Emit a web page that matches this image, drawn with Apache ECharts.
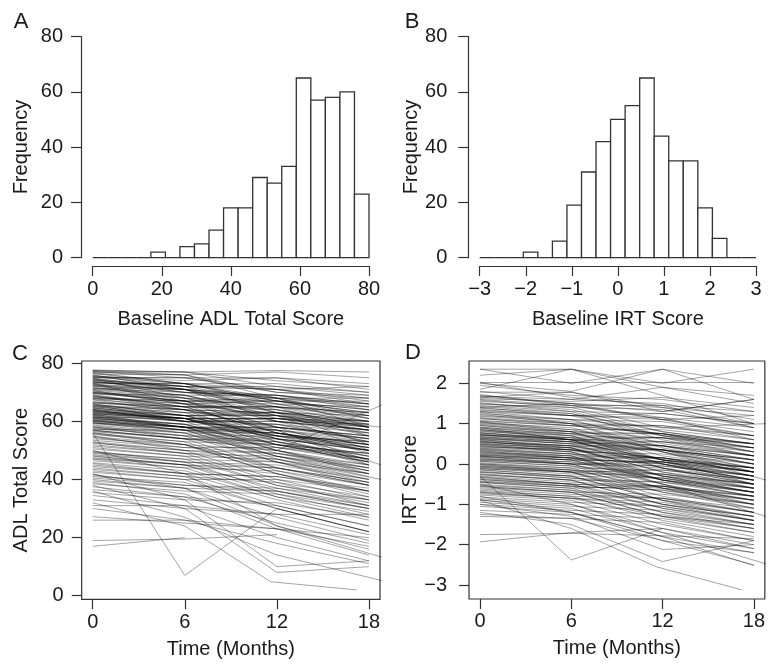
<!DOCTYPE html>
<html><head><meta charset="utf-8">
<script src="https://cdn.jsdelivr.net/npm/echarts@6/dist/echarts.min.js"></script>
<style>html,body{margin:0;padding:0;background:#fff}#c{width:768px;height:667px}</style>
</head><body><div id="c"></div>
<script>
// ---------- data ----------
const adlBinEdges = [0,4.21,8.42,12.63,16.84,21.05,25.26,29.47,33.68,37.89,42.11,46.32,50.53,54.74,58.95,63.16,67.37,71.58,75.79,80];
const adlCounts   = [0,0,0,0,2,0,4,5,10,18,18,29,27,33,65,57,58,60,23];
const irtBinEdges = [-3,-2.684,-2.368,-2.053,-1.737,-1.421,-1.105,-0.789,-0.474,-0.158,0.158,0.474,0.789,1.105,1.421,1.737,2.053,2.368,2.684,3];
const irtCounts   = [0,0,0,2,0,6,19,31,42,50,55,65,44,35,35,18,7,0,0];

const freqTicks = [0,20,40,60,80];
const adlTicks = [0,20,40,60,80];
const irtHistTicks = [-3,-2,-1,0,1,2,3];
const timeTicks = [0,6,12,18];
const irtTicks = [-3,-2,-1,0,1,2];

const visitTimes = [0,6,12,18];

// ADL total score per subject at months 0, 6, 12, 18
const adlTraj = [
[77.5,76,77,75],[77,77,72,70],[77.7,77,77.5,77],[76.5,73,71,66],[77,76,70,68],[76,71,68,62],[77.5,77,74,72],[76.8,73,67,63],[77.2,75,75,71],[76.3,76,68,58],
[75.5,72,71,67],[75,75,70,69],[74.5,71,64,60],[74,70,69,65],[73.5,72,63,58],[73,73,68,66],[75.8,73,73,70],[74.8,68,65,55],[72.5,71,65,62],[73.8,70,68,61],
[75.2,75,71,72],[72.2,69,61,57],[74.2,72,67,64],[73.2,67,66,60],[75.6,74,75,73],[72.8,71,66,65],[74.6,72,71,68],[73.6,71,60,53],[72.4,70,69,66],[75.3,73,66,62],
[74.1,72,72,69],[72.9,66,62,50],[73.3,73,67,67],[74.9,71,69,64],[72.1,71,63,56],
[71.5,69,69,66],[71,69,62,60],[70.5,67,67,63],[70,67,58,54],[69.5,69,63,62],[69,65,64,58],[68.5,66,58,55],[68,66,67,64],[67.5,65,56,51],[71.8,68,67,61],
[70.8,68,60,57],[69.8,67,68,65],[68.8,64,63,52],[67.8,67,61,60],[71.2,70,65,63],[70.2,66,54,46],[69.2,65,65,59],[68.2,67,60,57],[67.4,63,62,55],[71.4,71,68,68],
[70.6,66,64,58],[69.6,67,56,50],[68.6,65,65,61],[67.9,64,53,45],
[66.8,64,63,59],[66.5,64,57,54],[66,62,62,57],[65.5,63,55,52],[65,63,63,60],[64.5,62,55,50],[64,60,60,56],[63.5,61,53,48],[63.2,61,61,58],[66.3,65,56,52],
[65.8,60,57,45],[65.2,64,60,59],[64.8,61,59,53],[64.2,61,52,46],[63.8,61,61,57],[63.4,62,54,51],[66.6,65,65,63],[65.6,64,58,55],[64.6,62,62,58],[63.6,60,50,42],
[66.1,62,58,49],[65.1,62,54,50],[64.1,62,63,60],[63.1,61,55,53],
[62.8,60,59,54],[62.5,61,54,50],[62,58,55,48],[61.5,59,59,56],[61,59,51,46],[60.5,58,58,54],[60,58,50,45],[59.5,57,56,52],[59.2,57,48,42],[62.3,60,60,57],
[61.8,59,50,44],[61.3,58,56,50],[60.8,59,52,49],[60.3,57,47,40],[59.8,57,57,53],[62.6,61,52,47],[62.1,60,61,58],[61.6,58,48,41],[61.1,58,57,52],[60.6,58,49,44],
[60.1,58,58,55],[59.6,56,46,38],[62.4,58,56,51],[61.4,61,55,53],[60.4,57,54,47],[59.4,58,52,49],[62.9,61,61,59],
[58.5,55,53,47],[58,56,48,43],[57.5,55,55,51],[57,54,44,38],[56.5,54,53,48],[56,53,43,36],[55.5,53,52,47],[58.8,56,56,52],[57.8,55,46,40],[56.8,54,54,50],
[55.8,52,42,34],[58.2,54,52,46],[57.2,57,51,49],[56.2,52,50,43],
[54.5,51,49,43],[54,52,44,39],[53.5,51,51,47],[53,50,40,33],[52.5,50,49,45],[52,49,39,31],[51.5,49,48,44],[51,48,38,32],[50.5,48,47,42],[54.8,52,42,36],[52.8,49,46,39],
[49.8,46,44,38],[49.5,47,46,42],[49,46,36,30],[48.5,46,45,40],[48,45,35,28],[47.5,45,44,39],[47,44,34,27],[46.5,44,43,38],[49.2,47,38,33],[48.2,45,42,35],[47.2,45,37,31],
[45.5,42,41,36],[45,42,33,26],[44.5,42,41,37],[44,41,31,24],[43.5,41,39,34],[43,40,30,22],[42.5,40,40,36],[45.8,43,34,29],
[41.5,38,36,30],[41,39,30,22],[40.5,38,37,33],[40,37,27,19],[39.5,37,36,31],[39,35,23,14],[38.5,36,35,30],[41.8,37,24,16],
[37.5,34,31,24],[36.5,34,25,18],[35.5,33,32,27],[34.5,31,20,12],
[33,30,28,21],[31,31,28,28],
[27.2,25,23,17],[26,26,23,20],
[17,20,null,null],[19,19.5,21,null]
];
// ADL subjects with off-schedule visits: [month, score]
const adlTrajIrregular = [
[[0,56],[6,7],[12,30],[18,22]],
[[0,32],[6,24],[11.6,4.8],[17.2,2]],
[[0,38],[6,30],[12,8],[18,10]],
[[0,36],[6,27],[12,14],[19,5]],
[[0,30],[6,26],[12,18],[18,11]],
[[0,42],[6,33],[12,10],[18,12]],
[[0,50],[6,42],[12,24],[19,13]],
[[0,57],[6,54],[12,50],[19,66]],
[[0,70],[6,68],[12,62],[18.8,58]],
[[0,64],[6,60],[12,57],[18.8,45]],
[[0,55],[6,50],[12,47],[18.8,40]]
];

// IRT score per subject at months 0, 6, 12, 18
const irtTraj = [
[2.35,2.0,2.35,1.6],[2.35,2.35,2.0,2.35],[2.2,2.35,1.9,1.7],
[2.02,2.02,2.02,2.02],[2.0,1.8,2.35,2.0],[1.95,1.7,1.6,1.3],[1.85,2.35,1.7,1.0],[1.8,1.6,1.9,1.5],[2.02,1.65,1.45,0.9],[1.78,1.78,1.3,1.6],
[1.7,1.5,1.4,1.0],[1.65,1.78,1.4,1.2],[1.6,1.45,1.1,0.8],[1.55,1.45,1.45,1.3],[1.5,1.35,0.8,0.5],[1.45,1.3,1.25,1.0],[1.72,1.45,1.15,0.6],[1.62,1.55,1.65,1.4],[1.52,1.3,0.7,0.3],[1.68,1.6,1.5,1.1],
[1.58,1.4,0.9,0.7],[1.48,1.4,1.35,0.9],[1.43,1.25,0.6,0.2],[1.66,1.5,1.3,1.6],
[1.4,1.2,1.1,0.7],[1.35,1.2,0.7,0.4],[1.3,1.2,1.15,0.9],[1.25,1.1,0.5,0.2],[1.2,1.1,1.05,0.7],[1.15,1.0,0.4,0.0],[1.12,1.0,0.95,0.6],[1.38,1.25,0.8,0.5],[1.28,1.0,0.75,0.3],[1.18,1.05,0.7,0.5],
[1.33,1.2,1.25,1.0],[1.23,1.0,0.3,-0.2],[1.13,0.95,0.75,0.4],[1.4,1.5,1.1,1.2],
[1.08,0.95,0.75,0.4],[1.05,0.85,0.45,0.1],[1.0,0.85,0.85,0.6],[0.95,0.8,0.2,-0.1],[0.9,0.8,0.75,0.5],[0.85,0.7,0.1,-0.3],[0.8,0.7,0.65,0.3],[1.02,0.9,0.3,-0.1],[0.98,0.8,0.65,0.2],[0.92,0.7,0.0,-0.4],
[0.88,0.75,0.75,0.5],[0.82,0.65,0.45,0.0],[1.06,0.95,0.95,0.7],[0.96,0.75,0.35,0.1],[0.86,0.6,0.35,-0.2],[0.83,0.75,0.55,0.4],[1.04,0.8,0.1,-0.5],
[0.78,0.6,0.45,0.1],[0.76,0.65,0.1,-0.2],[0.74,0.6,0.55,0.3],[0.72,0.6,0.0,-0.4],[0.7,0.6,0.65,0.4],[0.68,0.55,0.1,-0.1],[0.66,0.5,0.35,0.0],[0.64,0.5,-0.1,-0.5],[0.62,0.5,0.55,0.2],[0.6,0.45,0.0,-0.3],
[0.58,0.45,0.35,0.1],[0.56,0.4,-0.2,-0.6],[0.54,0.45,0.45,0.2],[0.52,0.35,0.15,-0.2],[0.5,0.4,-0.3,-0.7],[0.48,0.4,0.35,0.0],[0.77,0.6,-0.1,-0.6],[0.73,0.55,0.35,-0.1],[0.67,0.55,0.45,0.2],[0.63,0.55,0.1,-0.2],
[0.57,0.35,0.05,-0.4],[0.53,0.45,0.1,-0.1],[0.49,0.3,-0.4,-0.8],[0.71,0.65,0.65,0.5],[0.61,0.4,-0.2,-0.5],
[0.46,0.35,0.15,-0.2],[0.43,0.35,-0.1,-0.4],[0.4,0.3,0.25,0.0],[0.37,0.25,-0.3,-0.6],[0.34,0.25,0.15,-0.2],[0.31,0.2,-0.4,-0.8],[0.28,0.2,0.15,-0.1],[0.25,0.15,-0.3,-0.5],[0.22,0.1,0.05,-0.3],[0.19,0.1,-0.5,-0.9],
[0.17,0.05,-0.05,-0.3],[0.45,0.3,-0.3,-0.7],[0.39,0.25,0.05,-0.3],[0.33,0.15,0.0,-0.4],[0.27,0.15,-0.4,-0.7],[0.21,0.15,0.15,-0.1],[0.42,0.35,0.35,0.1],[0.36,0.2,-0.5,-1.0],[0.3,0.15,0.0,-0.5],[0.24,0.1,-0.4,-0.6],[0.18,0.1,0.05,-0.2],
[0.15,0.0,-0.1,-0.5],[0.12,0.05,-0.4,-0.7],[0.09,0.0,-0.05,-0.3],[0.06,-0.05,-0.6,-0.9],[0.03,-0.1,-0.15,-0.4],[0.0,-0.1,-0.7,-1.1],[-0.03,-0.15,-0.25,-0.5],[-0.06,-0.15,-0.6,-0.8],[-0.09,-0.2,-0.15,-0.4],[-0.12,-0.2,-0.8,-1.2],
[-0.15,-0.3,-0.35,-0.6],[0.13,0.0,-0.6,-1.0],[0.07,-0.05,-0.25,-0.6],[0.01,-0.15,-0.35,-0.7],[-0.05,-0.2,-0.7,-1.0],[-0.11,-0.25,-0.25,-0.5],[0.1,0.0,0.05,-0.2],[-0.01,-0.2,-0.9,-1.4],[-0.08,-0.2,-0.35,-0.7],[-0.14,-0.3,-0.9,-1.3],
[-0.18,-0.35,-0.55,-0.9],[-0.21,-0.3,-0.9,-1.2],[-0.24,-0.4,-0.45,-0.7],[-0.27,-0.4,-1.0,-1.4],[-0.3,-0.45,-0.55,-0.9],[-0.33,-0.5,-1.1,-1.5],[-0.36,-0.5,-0.55,-0.8],[-0.39,-0.5,-1.0,-1.3],[-0.42,-0.55,-0.65,-1.0],[-0.45,-0.6,-1.2,-1.6],
[-0.2,-0.35,-0.45,-0.8],[-0.26,-0.4,-1.0,-1.3],[-0.32,-0.5,-0.6,-1.1],[-0.38,-0.55,-0.65,-0.9],[-0.44,-0.55,-1.1,-1.4],[-0.46,-0.6,-0.55,-0.8],
[-0.5,-0.65,-0.85,-1.2],[-0.53,-0.65,-1.2,-1.5],[-0.56,-0.7,-0.75,-1.0],[-0.59,-0.7,-1.3,-1.6],[-0.62,-0.75,-0.85,-1.1],[-0.65,-0.8,-1.4,-1.8],[-0.68,-0.8,-0.85,-1.2],[-0.71,-0.85,-1.3,-1.5],[-0.74,-0.85,-0.95,-1.3],[-0.77,-0.9,-1.5,-1.9],
[-0.55,-0.7,-1.3,-1.7],[-0.7,-0.85,-1.05,-1.4],
[-0.82,-0.95,-1.05,-1.4],[-0.86,-1.0,-1.6,-2.0],[-0.9,-1.05,-1.15,-1.5],[-0.95,-1.1,-1.7,-2.1],[-1.0,-1.15,-1.25,-1.6],[-1.05,-1.2,-1.8,-2.2],[-0.88,-1.2,-1.9,-2.5],
[-1.15,-1.25,-1.35,-1.7],[-1.25,-1.35,-1.9,-2.2],[-1.3,-1.35,-1.45,-1.9],
[-1.75,-1.72,-1.78,-1.85],[-1.93,-1.7,-1.6,null]
];
// IRT subjects with off-schedule visits: [month, score]
const irtTrajIrregular = [
[[0,-0.3],[6,-2.38],[12,-1.6],[18,-2.1]],
[[0,-0.9],[6,-1.6],[11.6,-2.55],[17.2,-3.12]],
[[0,-1.2],[6,-1.5],[12,-2.42],[18,-1.9]],
[[0,-1.0],[6,-1.3],[12,-2.12],[18,-2.0]],
[[0,-0.8],[6,-1.2],[12,-1.8],[18,-2.52]],
[[0,-0.5],[6,-1.0],[12,-1.7],[19,-2.5]],
[[0,0.9],[6,0.6],[12,0.3],[18.8,-0.4]],
[[0,0.2],[6,0.0],[12,-0.5],[18.8,-1.3]],
[[0,1.3],[6,1.1],[12,0.9],[18.8,1.0]]
];

// ---------- chart ----------
const FONT = '"Liberation Sans", Arial, Helvetica, sans-serif';
const TXT = '#1a1a1a';
const AX = '#333';
const minus = v => String(v).replace('-', '\u2212');

function trajData(reg, irr) {
  const out = [];
  reg.forEach(r => {
    const coords = [];
    r.forEach((v, i) => { if (v !== null) coords.push([visitTimes[i], v]); });
    out.push({ coords });
  });
  irr.forEach(r => out.push({ coords: r }));
  return out;
}

function histSeries(edges, counts, idx) {
  const data = counts.map((c, i) => [edges[i], edges[i + 1], c]);
  return {
    type: 'custom', xAxisIndex: idx, yAxisIndex: idx, data, clip: false, silent: true,
    encode: { x: [0, 1], y: 2 },
    renderItem(params, api) {
      const p0 = api.coord([api.value(0), api.value(2)]);
      const p1 = api.coord([api.value(1), 0]);
      return { type: 'rect',
        shape: { x: p0[0], y: p0[1], width: p1[0] - p0[0], height: p1[1] - p0[1] },
        style: { fill: '#fff', stroke: '#333', lineWidth: 1.3 } };
    }
  };
}

function axisCommon(ticks, margin, name, nameGap, showLine, offset) {
  return {
    type: 'value', name, nameLocation: 'middle', nameGap, offset: offset || 0,
    nameTextStyle: { fontFamily: FONT, fontSize: 20, color: TXT },
    axisLine: { show: showLine, onZero: false, lineStyle: { color: AX, width: 1.2 } },
    axisTick: { show: true, length: 10, customValues: ticks, lineStyle: { color: AX, width: 1.2 } },
    axisLabel: { customValues: ticks, margin, fontFamily: FONT, fontSize: 20, color: TXT, formatter: minus },
    splitLine: { show: false }
  };
}

const lineStyle = { color: 'rgba(0,0,0,0.4)', width: 0.9, opacity: 1 };

const chart = echarts.init(document.getElementById('c'), null, { renderer: 'canvas' });
chart.setOption({
  animation: false,
  backgroundColor: '#fff',
  grid: [
    { left: 92.7, top: 36.5, width: 276.3, height: 221.2 },
    { left: 479.7, top: 36.5, width: 276.3, height: 221.2 },
    { left: 81.7, top: 361, width: 298.3, height: 238.3, show: true, borderColor: AX, borderWidth: 1.2, backgroundColor: 'transparent' },
    { left: 469, top: 361, width: 297, height: 238, show: true, borderColor: AX, borderWidth: 1.2, backgroundColor: 'transparent' }
  ],
  xAxis: [
    Object.assign(axisCommon(adlTicks, 13, 'Baseline ADL Total Score', 43, true, 8.3), { gridIndex: 0, min: 0, max: 80 }),
    Object.assign(axisCommon(irtHistTicks, 13, 'Baseline IRT Score', 43, true, 8.3), { gridIndex: 1, min: -3, max: 3 }),
    Object.assign(axisCommon(timeTicks, 12.7, 'Time (Months)', 39.7, false), { gridIndex: 2, min: -0.72, max: 18.72 }),
    Object.assign(axisCommon(timeTicks, 12.7, 'Time (Months)', 39.7, false), { gridIndex: 3, min: -0.72, max: 18.72 })
  ],
  yAxis: [
    Object.assign(axisCommon(freqTicks, 18, 'Frequency', 49.3, true, 11.7), { gridIndex: 0, min: 0, max: 80 }),
    Object.assign(axisCommon(freqTicks, 21, 'Frequency', 45.8, true, 11.4), { gridIndex: 1, min: 0, max: 80 }),
    Object.assign(axisCommon(adlTicks, 18, 'ADL Total Score', 50, false), { gridIndex: 2, min: -1.24, max: 80.79 }),
    Object.assign(axisCommon(irtTicks, 22, 'IRT Score', 46, false), { gridIndex: 3, min: -3.347, max: 2.553 })
  ],
  series: [
    histSeries(adlBinEdges, adlCounts, 0),
    histSeries(irtBinEdges, irtCounts, 1),
    { type: 'lines', coordinateSystem: 'cartesian2d', polyline: true, xAxisIndex: 2, yAxisIndex: 2,
      data: trajData(adlTraj, adlTrajIrregular), clip: true, silent: true, lineStyle },
    { type: 'lines', coordinateSystem: 'cartesian2d', polyline: true, xAxisIndex: 3, yAxisIndex: 3,
      data: trajData(irtTraj, irtTrajIrregular), clip: true, silent: true, lineStyle }
  ],
  graphic: [
    { type: 'text', x: 21, y: 22, style: { text: 'A', font: '22px ' + FONT, fill: TXT, align: 'center', verticalAlign: 'middle' } },
    { type: 'text', x: 412, y: 22, style: { text: 'B', font: '22px ' + FONT, fill: TXT, align: 'center', verticalAlign: 'middle' } },
    { type: 'text', x: 20, y: 354, style: { text: 'C', font: '22px ' + FONT, fill: TXT, align: 'center', verticalAlign: 'middle' } },
    { type: 'text', x: 413, y: 353, style: { text: 'D', font: '22px ' + FONT, fill: TXT, align: 'center', verticalAlign: 'middle' } }
  ]
});
</script></body></html>
